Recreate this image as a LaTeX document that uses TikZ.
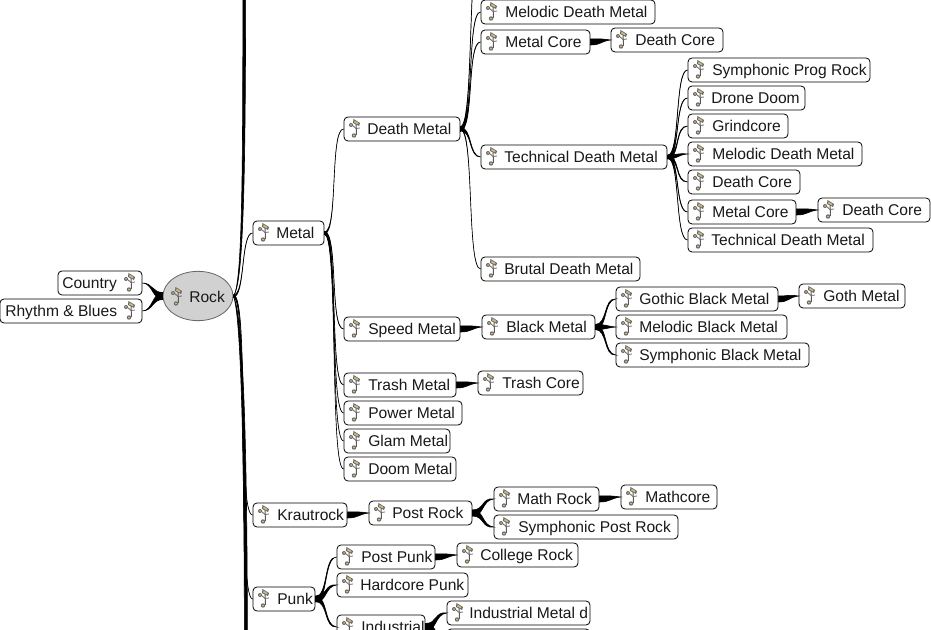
\documentclass[tikz,border=0pt]{standalone}
\usepackage{fontspec}
\setmainfont{Liberation Sans}
\usetikzlibrary{calc,shapes.geometric}
\definecolor{notetan}{HTML}{CDBB7A}
\tikzset{
  x=0.75pt,y=-0.75pt,
  genrebox/.style={draw=black,line width=0.6pt,rounded corners=3pt,fill=white,minimum height=18pt,inner sep=0pt},
  rootnode/.style={ellipse,draw=black!60,fill=black!18,line width=0.6pt,minimum width=52.5pt,minimum height=37pt,inner sep=0pt},
  labeltext/.style={anchor=base west,inner sep=0pt,font=\fontsize{11.7}{13}\selectfont,text=black!90},
  taper/.style={fill=black,draw=black,line width=0.45pt},
  noteicon/.pic={
    \draw[black!65,line width=0.7pt] (1,-6) -- (1.5,7);
    \fill[black!60] (-1.5,-9) -- (5,-5) -- (4,-2) -- (-2,-5) -- cycle;
    \fill[notetan] (-.5,-7.5) -- (3.5,-5) -- (3,-3.5) -- (-.8,-5.5) -- cycle;
    \fill[black!60] (-4,-3) circle (2);
    \fill[notetan] (-4,-3) circle (1);
    \fill[black!60] (-1,7.5) circle (2.2);
    \fill[notetan] (-1,7.5) circle (1.2);
    \draw[black!60,line width=0.6pt] (-3,-3) -- (1,0.5) -- (5,0);
  }
}
\newcommand{\gb}[6]{% name, x1, x2, y, text start, text
  \node[genrebox,minimum width={(#3-#2)*0.75pt}] (#1) at ({(#2+#3)/2},#4) {};
  \node[labeltext] (#1t) at (#5,#4+5.6) {#6};
  \pic at (#2+11,#4-1) {noteicon};
}
\newcommand{\link}[4]{% from, to, half width, control length (all px)
  \path[taper] ($(#1)+(0,#3)$) .. controls ($(#1)+(#4,#3)$) and ($(#2)+({-(#4)},{0.5*(#3)})$) .. (#2)
     .. controls ($(#2)+({-(#4)},{-0.5*(#3)})$) and ($(#1)+(#4,{-(#3)})$) .. ($(#1)+(0,{-(#3)})$) -- cycle;
}
\begin{document}
\begin{tikzpicture}
\useasboundingbox (0,0) rectangle (931,630);
\clip (0,0) rectangle (931,630);
\fill[white] (0,0) rectangle (931,630);
\coordinate (upL) at (242.8,-5);
\coordinate (upR) at (245.6,-5);
\coordinate (downL) at (244.4,635);
\coordinate (downR) at (247.4,635);
\coordinate (upB) at (481,-60);
\node[rootnode] (rock) at (198,296) {};
\node[labeltext] (rockt) at (189,302.6) {Rock};
\pic at (177,296) {noteicon};
\node[genrebox,minimum width=63pt] (country) at (100,283) {};
\node[labeltext] (countryt) at (62,288.6) {Country};
\pic at (130,282) {noteicon};
\node[genrebox,minimum width=106.5pt] (rb) at (71,311) {};
\node[labeltext] (rbt) at (5,316.6) {Rhythm \& Blues};
\pic at (130,310) {noteicon};
\gb{metal}{253}{324}{233}{276}{Metal}
\gb{death}{344}{460}{129}{367}{Death Metal}
\gb{mdmA}{481}{655}{12}{505}{Melodic Death Metal}
\gb{mcA}{481}{590}{42}{505}{Metal Core}
\gb{dcA}{611}{723}{40}{635}{Death Core}
\gb{tdmA}{481}{667}{157}{504}{Technical Death Metal}
\gb{bdm}{481}{640}{269}{504}{Brutal Death Metal}
\gb{spr}{688}{870}{70}{712}{Symphonic Prog Rock}
\gb{drone}{688}{805}{98}{711}{Drone Doom}
\gb{grind}{688}{788}{126}{712}{Grindcore}
\gb{mdmB}{688}{862}{154}{712}{Melodic Death Metal}
\gb{dcB}{688}{800}{182}{712}{Death Core}
\gb{mcB}{688}{796}{212}{712}{Metal Core}
\gb{dcC}{818}{930}{210}{842}{Death Core}
\gb{tdmB}{688}{873}{240}{711}{Technical Death Metal}
\gb{speed}{344}{460}{329}{368}{Speed Metal}
\gb{blackm}{482}{595}{327}{506}{Black Metal}
\gb{gothic}{616}{778}{299}{639}{Gothic Black Metal}
\gb{goth}{799}{905}{296}{823}{Goth Metal}
\gb{melb}{616}{787}{327}{639}{Melodic Black Metal}
\gb{symb}{616}{809}{355}{639}{Symphonic Black Metal}
\gb{trash}{344}{456}{385}{368}{Trash Metal}
\gb{trashc}{478}{583}{383}{502}{Trash Core}
\gb{power}{344}{462}{413}{368}{Power Metal}
\gb{glam}{344}{450}{441}{368}{Glam Metal}
\gb{doom}{344}{456}{469}{368}{Doom Metal}
\gb{kraut}{253}{347}{515}{277}{Krautrock}
\gb{postr}{369}{472}{513}{392}{Post Rock}
\gb{math}{494}{599}{499}{517}{Math Rock}
\gb{mathc}{621}{717}{497}{645}{Mathcore}
\gb{symp}{494}{678}{527}{518}{Symphonic Post Rock}
\gb{postp}{337}{435}{557}{361}{Post Punk}
\gb{college}{457}{578}{555}{480}{College Rock}
\gb{hard}{337}{468}{585}{360}{Hardcore Punk}
\gb{punk}{253}{315}{599}{277}{Punk}
\gb{indus}{337}{425}{627}{361}{Industrial}
\gb{indm}{447}{590}{613}{469}{Industrial Metal d}
\node[genrebox,minimum width=107pt] (indn) at (518.5,641) {};
% left
\path[taper] ($(rock.west)+(0,3.5)$) .. controls ($(rock.west)+(-10,3.5)$) and ($(country.east)+(10,0)$) .. (country.east) .. controls ($(country.east)+(10,0)$) and ($(rock.west)+(-10,-3.5)$) .. ($(rock.west)+(0,-3.5)$) -- cycle;
\path[taper] ($(rock.west)+(0,3.5)$) .. controls ($(rock.west)+(-10,3.5)$) and ($(rb.east)+(10,0)$) .. (rb.east) .. controls ($(rb.east)+(10,0)$) and ($(rock.west)+(-10,-3.5)$) .. ($(rock.west)+(0,-3.5)$) -- cycle;
% trunk, leaving the picture at top and bottom
\path[taper] (rock.east) .. controls ($(rock.east)+(8,-10)$) and (243,200) .. (upL) -- (upR) .. controls (245.6,200) and ($(rock.east)+(9,-10)$) .. (rock.east) -- cycle;
\path[taper] (rock.east) .. controls ($(rock.east)+(6,15)$) and (244,400) .. (downL) -- (downR) .. controls (247,400) and ($(rock.east)+(8,15)$) .. (rock.east) -- cycle;
\link{rock.east}{metal.west}{1}{12}
\link{rock.east}{kraut.west}{1}{16}
\link{rock.east}{punk.west}{1}{16}
% metal
\link{metal.east}{death.west}{1}{14}
\link{metal.east}{speed.west}{1.5}{14}
\link{metal.east}{trash.west}{1.5}{14}
\link{metal.east}{power.west}{1.2}{14}
\link{metal.east}{glam.west}{1}{14}
\link{metal.east}{doom.west}{1}{14}
% death
\link{death.east}{upB}{2.5}{14}
\link{death.east}{mdmA.west}{1.6}{14}
\link{death.east}{mcA.west}{1.6}{14}
\link{death.east}{tdmA.west}{1.6}{12}
\link{death.east}{bdm.west}{0.8}{14}
\link{mcA.east}{dcA.west}{3}{11}
% technical
\link{tdmA.east}{spr.west}{1.5}{13}
\link{tdmA.east}{drone.west}{1.5}{13}
\link{tdmA.east}{grind.west}{1.5}{13}
\link{tdmA.east}{mdmB.west}{2}{11}
\link{tdmA.east}{dcB.west}{1.5}{13}
\link{tdmA.east}{mcB.west}{1.5}{13}
\link{tdmA.east}{tdmB.west}{1}{13}
\link{mcB.east}{dcC.west}{3}{11}
% black metal
\link{speed.east}{blackm.west}{3}{11}
\link{blackm.east}{gothic.west}{2.5}{12}
\link{blackm.east}{melb.west}{2.5}{11}
\link{blackm.east}{symb.west}{2.5}{12}
\link{gothic.east}{goth.west}{3}{11}
\link{trash.east}{trashc.west}{3}{11}
% kraut, post rock
\link{kraut.east}{postr.west}{3}{11}
\link{postr.east}{math.west}{3}{12}
\link{postr.east}{symp.west}{3}{12}
\link{math.east}{mathc.west}{3}{11}
% punk
\link{punk.east}{postp.west}{2.5}{13}
\link{punk.east}{hard.west}{3}{12}
\link{punk.east}{indus.west}{2.5}{13}
\link{postp.east}{college.west}{3}{11}
\link{indus.east}{indm.west}{3.5}{12}
\link{indus.east}{indn.west}{3.5}{12}
\end{tikzpicture}
\end{document}
